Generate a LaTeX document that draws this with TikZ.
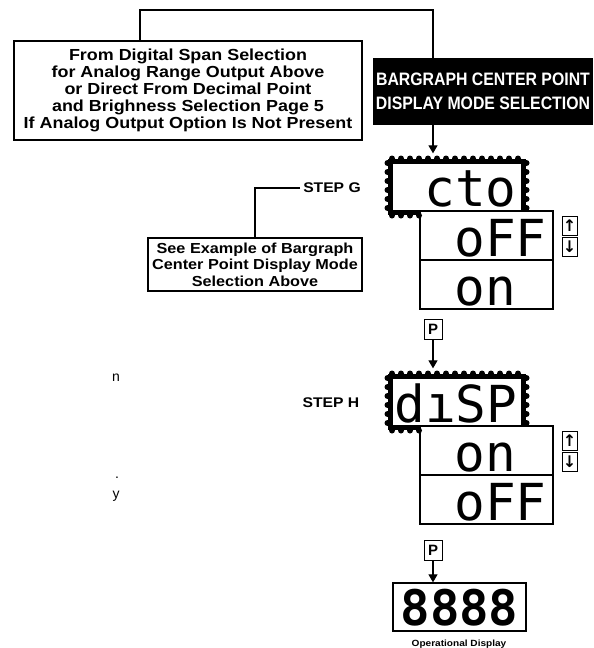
\documentclass[tikz,border=0pt]{standalone}
\usepackage{fontspec}
\setmainfont{Liberation Sans}
\newfontfamily\boxfont[FakeStretch=1.12]{Liberation Sans}
\newfontfamily\headfont[FakeStretch=0.88]{Liberation Sans}
\newfontfamily\segfont{DejaVu Sans Mono}
\newfontfamily\symfont{DejaVu Sans}
\usetikzlibrary{arrows.meta, positioning, calc}

% toothed frame round a display: x1, y1, x2, y2, end of the lower teeth
\newcommand{\teeth}[5]{%
    \fill (#1-4, #2-4) rectangle (#3+4, #2);
    \fill (#1-4, #2) rectangle (#1, #4+4);
    \fill (#3, #2) rectangle (#3+4, #4);
    \fill (#1, #4) rectangle (#5, #4+4);
    \pgfmathsetmacro{\tkx}{#1+9}
    \pgfmathsetmacro{\tky}{#2+9}
    \foreach \t in {#1,\tkx,...,#3} {\fill (\t, #2-4.5) circle (3);}
    \foreach \t in {#2,\tky,...,#4} {
        \fill (#1-4.5, \t) circle (3);
        \fill (#3+4.5, \t) circle (3);
    }
    \foreach \t in {#1,\tkx,...,#5} {\fill (\t, #4+4.5) circle (3);}
}

\begin{document}
\begin{tikzpicture}[
    x=1pt, y=-1pt,
    srcbox/.style={draw, line width=1.3pt, align=center, inner sep=0pt,
                   font=\boxfont\bfseries\fontsize{16}{17}\selectfont},
    titlebox/.style={fill=black, text=white, align=center, inner sep=0pt,
                     font=\headfont\bfseries\fontsize{18}{24}\selectfont},
    segbox/.style={draw, line width=1.3pt, inner sep=0pt},
    segtxt/.style={inner sep=0pt, anchor=base west,
                   font=\segfont\fontsize{51}{51}\selectfont},
    keybox/.style={draw, line width=1pt, inner sep=0pt,
                   minimum width=15pt, minimum height=19pt,
                   font=\symfont\bfseries\fontsize{16}{16}\selectfont},
    pkey/.style={draw, line width=1pt, inner sep=0pt,
                 minimum width=18pt, minimum height=20pt,
                 font=\bfseries\fontsize{15}{15}\selectfont},
    steplab/.style={inner sep=0pt, font=\boxfont\bfseries\fontsize{14}{14}\selectfont},
    frag/.style={inner sep=0pt, font=\fontsize{14}{14}\selectfont},
    link/.style={line width=1.2pt},
    flow/.style={line width=1.2pt, -{Triangle[width=9pt,length=8pt]}},
]
\useasboundingbox (0,0) rectangle (594,648);

% ---------------------------------------------------------------- heading
\node[srcbox, minimum width=348pt, minimum height=99pt] (from) at (188,90.5)
    {From Digital Span Selection\\ for Analog Range Output Above\\
     or Direct From Decimal Point\\ and Brighness Selection Page 5\\
     If Analog Output Option Is Not Present};
\node[titlebox, minimum width=220pt, minimum height=67pt] (title) at (483,91.5)
    {BARGRAPH CENTER POINT\\ DISPLAY MODE SELECTION};

% ---------------------------------------------------------------- step G
\teeth{392}{163}{522}{211}{420}
\node[segbox, minimum width=130pt, minimum height=48pt] (cto) at (457,187) {};
\node[segtxt] (ctotxt) at ([xshift=33pt, yshift=5pt]cto.south west) {cto};
\node[segbox, minimum width=133pt, minimum height=49pt] (offA) at (486.5,235.5) {};
\node[segtxt] (offAtxt) at ([xshift=35pt, yshift=4pt]offA.south west) {oFF};
\node[segbox, minimum width=133pt, minimum height=49pt] (onA) at (486.5,284.5) {};
\node[segtxt] (onAtxt) at ([xshift=35pt, yshift=4pt]onA.south west) {on};
\node[keybox] (upA) at (569.5,225.5) {↑};
\node[keybox] (dnA) at (569.5,246.5) {↓};
\node[steplab] (stepG) at (332,188) {STEP G};
\node[srcbox, font=\boxfont\bfseries\fontsize{14.5}{16.5}\selectfont,
      minimum width=214pt, minimum height=53pt] (see) at (255,264.5)
    {See Example of Bargraph\\ Center Point Display Mode\\ Selection Above};

% ---------------------------------------------------------------- step H
\node[pkey] (pA) at (433,329) {P};
\teeth{392}{378}{522}{426}{420}
\node[segbox, minimum width=130pt, minimum height=48pt] (disp) at (457,402) {};
\node[segtxt] (disptxt) at ([xshift=3pt, yshift=4pt]disp.south west) {dıSP};
\node[segbox, minimum width=133pt, minimum height=49pt] (onB) at (486.5,450.5) {};
\node[segtxt] (onBtxt) at ([xshift=35pt, yshift=4pt]onB.south west) {on};
\node[segbox, minimum width=133pt, minimum height=49pt] (offB) at (486.5,499.5) {};
\node[segtxt] (offBtxt) at ([xshift=35pt, yshift=4pt]offB.south west) {oFF};
\node[keybox] (upB) at (569.5,440.5) {↑};
\node[keybox] (dnB) at (569.5,461.5) {↓};
\node[steplab] (stepH) at (331,403) {STEP H};

% ---------------------------------------------------------------- run display
\node[pkey] (pB) at (433,550) {P};
\node[segbox, minimum width=133pt, minimum height=48pt, text height=36pt, text depth=0pt,
      font=\segfont\bfseries\fontsize{49}{49}\selectfont] (show) at (459.5,607) {8888};
\node[steplab, font=\boxfont\bfseries\fontsize{9}{9}\selectfont] (oplab) at (459,644)
    {Operational Display};

% ---------------------------------------------------------------- margin
\node[frag] (fragn) at (116,378) {n};
\node[frag] (fragdot) at (117,478) {.};
\node[frag] (fragy) at (116,496) {y};

% ---------------------------------------------------------------- connectors
\coordinate (kneeA) at (140,10);
\coordinate (kneeB) at (433,10);
\draw[link] (from.north -| kneeA) -- (kneeA) -- (kneeB) -- (title.north -| kneeB);
\draw[flow, shorten >=9pt] (title.south -| kneeB) -- (cto.north -| kneeB);
\draw[link, shorten <=3pt] (stepG.west) -| (see.north);
\draw[flow, shorten >=9pt] (pA.south) -- (pA |- disp.north);
\draw[flow] (pB.south) -- (pB |- show.north);

\end{tikzpicture}
\end{document}
